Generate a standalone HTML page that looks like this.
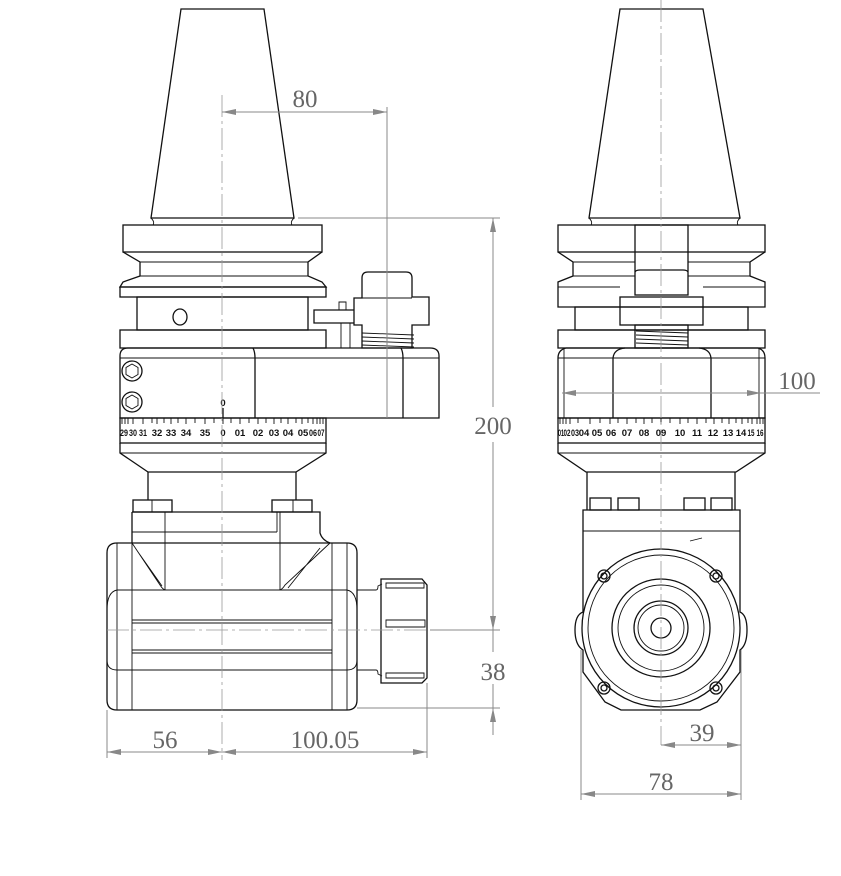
<!DOCTYPE html>
<html><head><meta charset="utf-8"><style>
html,body{margin:0;padding:0;background:#fff;}
svg{display:block;}
.k{fill:none;stroke:#111;stroke-width:1.3;}
.t{fill:none;stroke:#111;stroke-width:0.9;}
.d{fill:none;stroke:#888;stroke-width:1;}
.c{fill:none;stroke:#999;stroke-width:0.8;stroke-dasharray:22 4 3 4;}
.dt{font-family:"Liberation Serif",serif;font-size:25px;fill:#666;text-anchor:middle;}
.sc{font-family:"Liberation Sans",sans-serif;font-size:9.5px;font-weight:bold;fill:#111;text-anchor:middle;}
.a{fill:#888;}
</style></head><body>
<svg width="841" height="876" viewBox="0 0 841 876" xmlns="http://www.w3.org/2000/svg">
<!-- ============ LEFT VIEW ============ -->
<!-- taper -->
<path class="k" d="M181,9 L264,9 L294,218 L151,218 Z"/>
<path class="t" d="M151,218 Q155,222 153,225 M294,218 Q290,222 292,225"/>
<!-- flange -->
<rect class="k" x="123" y="225" width="199" height="27"/>
<path class="k" d="M123,252 L140,262 L140,276 L123,282 L120,287 L326,287 L322,282 L308,276 L308,262 L322,252"/>
<line class="t" x1="140" y1="262" x2="308" y2="262"/><line class="t" x1="140" y1="276" x2="308" y2="276"/>
<rect class="k" x="120" y="287" width="206" height="10"/>
<rect class="k" x="137" y="297" width="171" height="33"/>
<ellipse class="k" cx="180" cy="317" rx="7" ry="8"/>
<rect class="k" x="120" y="330" width="206" height="18"/>
<!-- clamp -->
<path class="k" d="M362,278 Q362,272 368,272 L406,272 Q412,272 412,278 L412,297 L429,297 L429,325 L412,325 L412,348 L362,348 L362,325 L354,325 L354,310 L314,310 L314,323 L354,323 M354,310 L330,310 M354,310 L354,298 L362,298 L362,278"/>
<line class="t" x1="362" y1="298" x2="412" y2="298"/>
<path class="t" d="M339,310 L339,302 L346,302 L346,310 M341,323 L341,348 M350,323 L350,348"/>
<path class="t" d="M362,333 L414,335 M362,337 L414,339 M362,341 L414,343 M362,345 L414,347"/>
<!-- body -->
<path class="k" d="M128,348 L430,348 Q439,348 439,356 L439,418 L120,418 L120,356 Q120,348 128,348 Z"/>
<line class="t" x1="120" y1="358" x2="439" y2="358"/>
<path class="k" d="M253,348 Q255,352 255,358 L255,418 M401,348 Q403,352 403,358 L403,418"/>
<circle class="k" cx="132" cy="371" r="10"/><path class="t" d="M132,364 L138,367.5 L138,374.5 L132,378 L126,374.5 L126,367.5 Z"/>
<circle class="k" cx="132" cy="402" r="10"/><path class="t" d="M132,395 L138,398.5 L138,405.5 L132,409 L126,405.5 L126,398.5 Z"/>
<text class="sc" x="223" y="406">0</text><line class="k" x1="223" y1="408" x2="223" y2="418"/>
<!-- scale band -->
<rect class="k" x="120" y="418" width="206" height="25"/>
<g class="t">
<path d="M122,418v6M125,418v6M128,418v6M133,418v6M143,418v6M152,418v5M157,418v6M164,418v5M171,418v6M178,418v5M186,418v6M195,418v5M205,418v6M214,418v5M223,418v6M231,418v5M240,418v6M249,418v5M258,418v6M266,418v5M274,418v6M281,418v5M288,418v6M296,418v5M302,418v6M308,418v5M313,418v6M317,418v6M320,418v6M323,418v6"/>
</g>
<g class="sc">
<text x="124" y="436" textLength="8" lengthAdjust="spacingAndGlyphs">29</text>
<text x="133" y="436" textLength="8" lengthAdjust="spacingAndGlyphs">30</text>
<text x="143" y="436" textLength="8" lengthAdjust="spacingAndGlyphs">31</text>
<text x="157" y="436">32</text><text x="171" y="436">33</text><text x="186" y="436">34</text><text x="205" y="436">35</text>
<text x="223" y="436">0</text><text x="240" y="436">01</text><text x="258" y="436">02</text><text x="274" y="436">03</text><text x="288" y="436">04</text><text x="303" y="436">05</text>
<text x="313" y="436" textLength="8" lengthAdjust="spacingAndGlyphs">06</text>
<text x="321" y="436" textLength="7" lengthAdjust="spacingAndGlyphs">07</text>
</g>
<path class="k" d="M120,443 L120,453 L148,472 L296,472 L326,453 L326,443"/>
<line class="t" x1="120" y1="453" x2="326" y2="453"/>
<path class="k" d="M148,472 L148,500 M296,472 L296,500"/>
<!-- blocks -->
<rect class="k" x="133" y="500" width="39" height="12"/><line class="t" x1="152" y1="500" x2="152" y2="512"/>
<rect class="k" x="272" y="500" width="40" height="12"/><line class="t" x1="293" y1="500" x2="293" y2="512"/>
<!-- head -->
<path class="k" d="M132,512 L320,512 L320,533 Q322,540 330,543 M132,512 L132,543"/>
<line class="t" x1="132" y1="532" x2="277" y2="532"/>
<path class="t" d="M165,512 L165,590 M277,512 L277,532 M280,512 L280,590"/>
<path class="t" d="M132,543 L160,585 Q163,590 166,590 M138,552 L162,586 M330,543 L285,585 Q282,590 279,590 M320,548 L288,588"/>
<path class="k" d="M117,543 L347,543 Q357,543 357,553 L357,700 Q357,710 347,710 L117,710 Q107,710 107,700 L107,553 Q107,543 117,543 Z"/>
<path class="t" d="M117,543 L117,710 M132,543 L132,710 M332,543 L332,710 M347,543 L347,710"/>
<path class="t" d="M117,590 Q107,592 107,610 L107,660 Q107,670 117,670 M347,590 Q357,592 357,610 L357,660 Q357,670 347,670"/>
<path class="t" d="M117,590 L347,590 M132,620 L332,620 M132,623 L332,623 M132,650 L332,650 M132,653 L332,653 M117,670 L347,670"/>
<path class="t" d="M357,590 L376,590 Q378,590 378,586 L382,584 M357,670 L376,670 Q378,670 378,674 L382,676"/>
<!-- collet nut -->
<path class="k" d="M381,579 L422,579 L427,585 L427,678 L422,683 L381,683 Z"/>
<path class="t" d="M386,583 L424,583 L424,588 L386,588 Z M386,620 L425,620 L425,627 L386,627 Z M386,673 L424,673 L424,678 L386,678 Z"/>
<!-- ============ RIGHT VIEW ============ -->
<path class="k" d="M620,9 L703,9 L740,218 L589,218 Z"/>
<path class="t" d="M589,218 Q593,222 591,225 M740,218 Q736,222 738,225"/>
<rect class="k" x="558" y="225" width="207" height="27"/>
<path class="k" d="M558,252 L573,262 L573,276 L558,282 L558,307 L765,307 L765,282 L750,276 L750,262 L765,252"/>
<path class="t" d="M573,262 L635,262 M688,262 L750,262 M573,276 L635,276 M688,276 L750,276 M558,287 L620,287 M703,287 L765,287"/>
<rect class="k" x="635" y="225" width="53" height="70"/>
<path class="k" d="M635,272 Q636,270 640,270 L683,270 Q687,270 688,272"/>
<rect class="k" x="620" y="297" width="83" height="28"/>
<rect class="k" x="575" y="307" width="173" height="23"/>
<rect class="k" x="558" y="330" width="207" height="18"/>
<rect class="k" x="635" y="325" width="53" height="23"/>
<path class="t" d="M636,331 L688,333 M636,335 L688,337 M636,339 L688,341 M636,343 L688,345"/>
<path class="k" d="M566,348 L758,348 Q765,350 765,358 L765,418 L558,418 L558,358 Q558,350 566,348 Z"/>
<line class="t" x1="558" y1="358" x2="765" y2="358"/>
<path class="k" d="M613,418 L613,358 Q614,349 625,348 M711,418 L711,358 Q710,349 699,348"/>
<path class="t" d="M564,348 L564,418 M759,348 L759,418"/>
<rect class="k" x="558" y="418" width="207" height="25"/>
<g class="t"><path d="M560,418v6M563,418v6M566,418v6M570,418v6M578,418v5M590,418v6M600,418v5M610,418v6M618,418v5M627,418v6M636,418v5M644,418v6M652,418v5M661,418v6M670,418v5M680,418v6M688,418v5M697,418v6M706,418v5M714,418v6M722,418v5M729,418v6M736,418v5M742,418v6M748,418v5M752,418v6M757,418v6M760,418v6M763,418v6"/></g>
<g class="sc">
<text x="561" y="436" textLength="6" lengthAdjust="spacingAndGlyphs">01</text>
<text x="567" y="436" textLength="7" lengthAdjust="spacingAndGlyphs">02</text>
<text x="575" y="436" textLength="8" lengthAdjust="spacingAndGlyphs">03</text>
<text x="584" y="436">04</text><text x="597" y="436">05</text><text x="611" y="436">06</text><text x="627" y="436">07</text><text x="644" y="436">08</text><text x="661" y="436">09</text><text x="680" y="436">10</text><text x="697" y="436">11</text><text x="713" y="436">12</text><text x="728" y="436">13</text><text x="741" y="436">14</text>
<text x="751" y="436" textLength="7" lengthAdjust="spacingAndGlyphs">15</text>
<text x="760" y="436" textLength="7" lengthAdjust="spacingAndGlyphs">16</text>
</g>
<path class="k" d="M558,443 L558,453 L586,472 L736,472 L765,453 L765,443"/>
<line class="t" x1="558" y1="453" x2="765" y2="453"/>
<path class="k" d="M587,472 L587,510 M735,472 L735,510"/>
<rect class="k" x="590" y="498" width="21" height="12"/><rect class="k" x="618" y="498" width="21" height="12"/>
<rect class="k" x="684" y="498" width="21" height="12"/><rect class="k" x="711" y="498" width="21" height="12"/>
<path class="k" d="M583,510 L740,510 L740,612 Q747,615 747,630 Q747,645 740,650 L740,672 L717,702 L700,710 L621,710 L605,702 L583,672 L583,650 Q575,645 575,630 Q575,615 583,612 Z"/>
<line class="t" x1="583" y1="531" x2="740" y2="531"/>
<circle class="k" cx="661" cy="628" r="79"/>
<circle class="t" cx="661" cy="628" r="73"/>
<path class="t" d="M690,541 L702,538"/>
<circle class="k" cx="661" cy="628" r="49"/>
<circle class="t" cx="661" cy="628" r="43"/>
<circle class="k" cx="661" cy="628" r="27"/>
<circle class="t" cx="661" cy="628" r="23"/>
<circle class="k" cx="661" cy="628" r="10"/>
<g class="k">
<circle cx="604" cy="576" r="6"/><circle cx="604" cy="576" r="3"/>
<circle cx="716" cy="576" r="6"/><circle cx="716" cy="576" r="3"/>
<circle cx="604" cy="688" r="6"/><circle cx="604" cy="688" r="3"/>
<circle cx="716" cy="688" r="6"/><circle cx="716" cy="688" r="3"/>
</g>
<!-- ============ CENTER LINES ============ -->
<line class="c" x1="222" y1="95" x2="222" y2="760"/>
<line class="c" x1="661" y1="0" x2="661" y2="745"/>
<line class="c" x1="107" y1="630" x2="427" y2="630"/>
<!-- ============ DIMENSIONS ============ -->
<!-- 80 -->
<line class="d" x1="222" y1="112" x2="387" y2="112"/>
<path class="a" d="M222,112 l14,-3 v6 Z M387,112 l-14,-3 v6 Z"/>
<line class="d" x1="387" y1="107" x2="387" y2="418"/>
<text class="dt" x="305" y="107">80</text>
<!-- 200 / 38 -->
<line class="d" x1="298" y1="218" x2="500" y2="218"/>
<line class="d" x1="430" y1="630" x2="500" y2="630"/>
<line class="d" x1="357" y1="708" x2="500" y2="708"/>
<line class="d" x1="493" y1="218" x2="493" y2="407"/>
<line class="d" x1="493" y1="442" x2="493" y2="630"/>
<path class="a" d="M493,218 l-3,14 h6 Z M493,630 l-3,-14 h6 Z"/>
<text class="dt" x="493" y="434">200</text>
<line class="d" x1="493" y1="630" x2="493" y2="652"/>
<line class="d" x1="493" y1="684" x2="493" y2="735"/>
<path class="a" d="M493,708 l-3,14 h6 Z"/>
<text class="dt" x="493" y="680">38</text>
<!-- 56 / 100.05 -->
<path class="d" d="M107,710 L107,758 M427,683 L427,758"/>
<line class="d" x1="107" y1="752" x2="427" y2="752"/>
<path class="a" d="M107,752 l14,-3 v6 Z M222,752 l-14,-3 v6 Z M222,752 l14,-3 v6 Z M427,752 l-14,-3 v6 Z"/>
<text class="dt" x="165" y="748">56</text>
<text class="dt" x="325" y="748">100.05</text>
<!-- 100 -->
<line class="d" x1="562" y1="393" x2="820" y2="393"/>
<path class="a" d="M562,393 l14,-3 v6 Z M761,393 l-14,-3 v6 Z"/>
<text class="dt" x="797" y="389">100</text>
<!-- 39 / 78 -->
<path class="d" d="M581,650 L581,800 M741,650 L741,800"/>
<line class="d" x1="661" y1="745" x2="741" y2="745"/>
<path class="a" d="M661,745 l14,-3 v6 Z M741,745 l-14,-3 v6 Z"/>
<text class="dt" x="702" y="741">39</text>
<line class="d" x1="581" y1="794" x2="741" y2="794"/>
<path class="a" d="M581,794 l14,-3 v6 Z M741,794 l-14,-3 v6 Z"/>
<text class="dt" x="661" y="790">78</text>
</svg>
</body></html>
